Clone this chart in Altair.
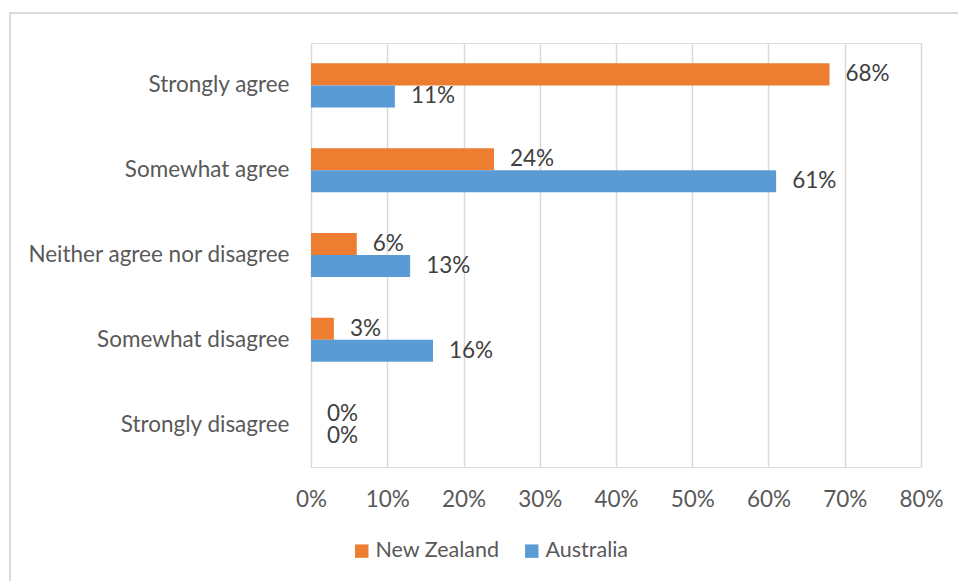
import altair as alt
import pandas as pd

categories = ["Strongly agree", "Somewhat agree", "Neither agree nor disagree",
              "Somewhat disagree", "Strongly disagree"]
series = ["New Zealand", "Australia"]
nz_values = [0.68, 0.24, 0.06, 0.03, 0.00]
au_values = [0.11, 0.61, 0.13, 0.16, 0.00]
tick_values = [0, 0.1, 0.2, 0.3, 0.4, 0.5, 0.6, 0.7, 0.8]
colors = ["#ED7D31", "#5B9BD5"]

rows = []
for c, v in zip(categories, nz_values):
    rows.append({"category": c, "country": "New Zealand", "value": v})
for c, v in zip(categories, au_values):
    rows.append({"category": c, "country": "Australia", "value": v})
df = pd.DataFrame(rows)

FONT = "Lato"
FS = 22.5
LEG_FS = 21.5
W, H = 610, 424

y_enc = alt.Y("category:N", sort=categories, title=None,
              scale=alt.Scale(paddingInner=0.48, paddingOuter=0.24),
              axis=alt.Axis(domain=False, ticks=False, labelPadding=22,
                            labelFontSize=FS, labelColor="#595959", labelFont=FONT,
                            labelLimit=400))
yoff = alt.YOffset("country:N", sort=series,
                   scale=alt.Scale(paddingInner=0, paddingOuter=0))
x_enc = alt.X("value:Q", title=None,
              scale=alt.Scale(domain=[0, 0.8], nice=False),
              axis=alt.Axis(values=tick_values, format=".0%", domain=False, ticks=False,
                            grid=True, gridColor="#D9D9D9", gridWidth=1.5,
                            labelFlush=False, labelPadding=21, labelFontSize=FS,
                            labelColor="#595959", labelFont=FONT))

bars = alt.Chart(df).mark_bar().encode(
    y=y_enc, yOffset=yoff, x=x_enc,
    color=alt.Color("country:N", sort=series,
                    scale=alt.Scale(domain=series, range=colors),
                    legend=alt.Legend(title=None, orient="none", direction="horizontal",
                                      legendX=40, legendY=497, symbolType="square",
                                      symbolSize=180, symbolStrokeWidth=0,
                                      labelFontSize=LEG_FS, labelFont=FONT,
                                      labelColor="#595959", columnPadding=21,
                                      symbolOffset=0, labelOffset=3)),
)

labels = alt.Chart(df).mark_text(
    align="left", baseline="middle", dx=16,
    fontSize=FS, font=FONT, color="#404040").encode(
    y=alt.Y("category:N", sort=categories),
    yOffset=alt.YOffset("country:N", sort=series),
    x=alt.X("value:Q"),
    text=alt.Text("value:Q", format=".0%"),
)

border = alt.Chart(df).mark_rect(fill=None, stroke="#D9D9D9", strokeWidth=2).encode(
    x=alt.value(10 - 311), x2=alt.value(980 - 311),
    y=alt.value(13 - 43), y2=alt.value(620 - 43),
)

chart = alt.layer(border, bars, labels).properties(
    width=W, height=H,
    autosize=alt.AutoSizeParams(type="none"),
    padding={"left": 311, "top": 43, "right": 958 - 311 - W, "bottom": 581 - 43 - H},
).configure_view(stroke=None).configure(background="white")

chart.save("out.html", embed_options={"renderer": "svg", "actions": False})
